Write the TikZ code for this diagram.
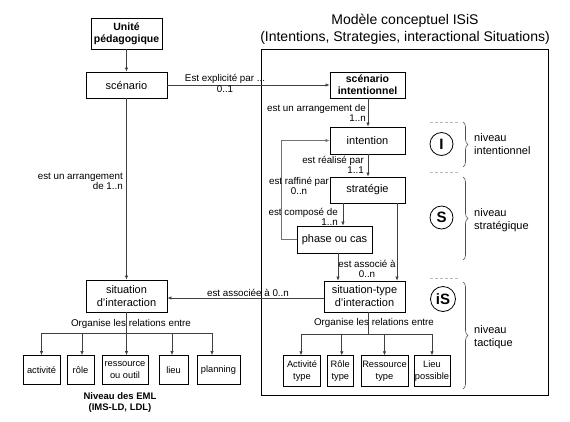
\documentclass[tikz,border=0pt]{standalone}
\usepackage{fontspec}
\setmainfont{Liberation Sans}
\usetikzlibrary{arrows.meta,decorations.pathreplacing}
\begin{document}
\begin{tikzpicture}[x=1pt,y=-1pt,
  box/.style={draw,line width=0.8pt,inner sep=0pt,align=center,font=\fontsize{11}{13}\selectfont},
  bbox/.style={box,font=\fontsize{10.5}{12}\selectfont\bfseries},
  sbox/.style={draw,line width=0.8pt,inner sep=0pt,align=center,font=\fontsize{9.3}{12}\selectfont},
  lbl/.style={inner sep=0pt,align=center,font=\fontsize{9.8}{10}\selectfont},
  lvl/.style={inner sep=0pt,align=left,anchor=west,font=\fontsize{11}{13}\selectfont},
  circ/.style={circle,draw,line width=0.8pt,inner sep=0pt,minimum size=23pt,font=\fontsize{15}{15}\selectfont\bfseries},
  arr/.style={draw=black!75,line width=0.7pt,-{Latex[length=4pt,width=3.5pt]}},
  ln/.style={draw=black!75,line width=0.7pt},
  sep/.style={draw=gray!55,line width=0.7pt,dash pattern=on 3pt off 2pt},
  brc/.style={draw=black!70,line width=0.6pt,decorate,decoration={brace,amplitude=5pt}}
]
\useasboundingbox (0,0) rectangle (570,421);

% big frame and title
\draw[line width=1pt] (261,49) rectangle (548,395);
\node[inner sep=0pt,align=center,font=\fontsize{14}{17}\selectfont] (title) at (405,29.5)
  {Modèle conceptuel ISiS\\(Intentions, Strategies, interactional Situations)};

% nodes
\node[bbox,minimum width=71pt,minimum height=31pt] (up) at (126.5,33.5) {Unité\\pédagogique};
\node[box,minimum width=81pt,minimum height=26pt] (scen) at (126.5,85) {scénario};
\node[bbox,minimum width=75pt,minimum height=26pt] (sint) at (367.5,85) {scénario\\intentionnel};
\node[box,minimum width=75pt,minimum height=27pt] (int) at (367.5,140.5) {intention};
\node[box,minimum width=75pt,minimum height=26pt] (strat) at (367.5,190) {stratégie};
\node[box,minimum width=75pt,minimum height=27pt] (phase) at (334.5,239.5) {phase ou cas};
\node[box,minimum width=81pt,minimum height=31pt] (sit) at (364.5,296.5) {situation-type\\d’interaction};
\node[box,minimum width=81pt,minimum height=32pt] (sitint) at (126.5,296) {situation\\d’interaction};

% bottom left boxes
\node[sbox,minimum width=37pt,minimum height=29pt] (act) at (41.5,370) {activité};
\node[sbox,minimum width=27pt,minimum height=29pt] (role) at (80.5,370) {rôle};
\node[sbox,minimum width=46pt,minimum height=29pt] (ress) at (125,370) {ressource\\ou outil};
\node[sbox,minimum width=29pt,minimum height=29pt] (lieu) at (173.5,370) {lieu};
\node[sbox,minimum width=43pt,minimum height=29pt] (plan) at (218.5,370) {planning};
\node[inner sep=0pt,align=center,font=\fontsize{9.5}{11}\selectfont\bfseries] (eml) at (120,402.5) {Niveau des EML\\(IMS-LD, LDL)};

% bottom right boxes
\node[sbox,minimum width=37pt,minimum height=30.5pt] (at) at (302,371) {Activité\\type};
\node[sbox,minimum width=25.5pt,minimum height=30.5pt] (rt) at (340.3,371) {Rôle\\type};
\node[sbox,minimum width=47pt,minimum height=30.5pt] (rst) at (384.5,371) {Ressource\\type};
\node[sbox,minimum width=36pt,minimum height=30.5pt] (lp) at (432,371) {Lieu\\possible};

% connectors
\draw[arr] (up) -- (scen);
\draw[arr] (scen.east) -- (sint.west);
\node[lbl] (l1a) at (225,79) {Est explicité par ...};
\node[lbl] (l1b) at (225,89.5) {0..1};

\draw[arr] (scen.south) -- (sitint.north);
\node[lbl,align=right,anchor=east] (l2) at (123,181.5) {est un arrangement\\de 1..n};

\draw[arr] ([xshift=0.5pt]sint.south) -- ([xshift=0.5pt]int.north);
\node[lbl,align=right,anchor=east] (l3) at (366,112.5) {est un arrangement de\\1..n};

\draw[arr] ([xshift=0.5pt]int.south) -- ([xshift=0.5pt]strat.north);
\node[lbl,align=right,anchor=east] (l4) at (364,165) {est réalisé par\\1..1};

\draw[arr] ([xshift=-24.5pt]strat.south) -- ([xshift=-24.5pt]strat.south |- phase.north);
\node[lbl,align=right,anchor=east] (l5) at (338,216.5) {est composé de\\1..n};

\draw[arr,draw=black!55] (phase.west) -- ++(-15,0) |- (int.west);
\node[lbl] (l6) at (299,186) {est raffiné par\\0..n};

\draw[arr] ([xshift=29.5pt]strat.south) -- ([xshift=29.5pt]strat.south |- sit.north);
\draw[arr] ([xshift=3.5pt]phase.south) -- ([xshift=3.5pt]phase.south |- sit.north);
\node[lbl] (l7) at (367,268.5) {est associé à\\0..n};

\draw[arr] (sit.west |- 0,298) -- (sitint.east |- 0,298);
\node[lbl] (l8) at (248,293) {est associée à 0..n};

% left bus
\coordinate (busL) at (126.5,333.5);
\draw[ln] (sitint.south) -- (busL);
\draw[arr] (busL) -| (act.north);
\draw[arr] (busL) -| ([xshift=1.5pt]role.north);
\draw[arr] (busL) -| ([xshift=1.5pt]ress.north);
\draw[arr] (busL) -| ([xshift=-1.5pt]lieu.north);
\draw[arr] (busL) -| ([xshift=-6.5pt]plan.north);
\node[lbl] (l9) at (131,324) {Organise les relations entre};

% right bus
\coordinate (busR) at (368,334);
\draw[ln] ([xshift=3.5pt]sit.south) -- (busR);
\draw[arr] (busR) -| ([xshift=-1pt]at.north);
\draw[arr] (busR) -| ([xshift=1.5pt]rt.north);
\draw[arr] (busR) -| (rst.north);
\draw[arr] (busR) -| (lp.north);
\node[lbl] (l10) at (374,323) {Organise les relations entre};

% levels
\draw[sep] (430,122) -- (459,122);
\draw[sep] (430,172) -- (459,172);
\draw[sep] (430,278) -- (459,278);
\node[circ] (cI) at (441.5,144) {I};
\node[circ] (cS) at (441.5,217.5) {S};
\node[circ,minimum size=25pt] (ciS) at (443,299) {iS};
\draw[brc] (463,122) -- (463,167);
\draw[brc] (463,177) -- (463,260);
\draw[brc] (463,282) -- (463,389);
\node[lvl] (n1) at (474,144) {niveau\\intentionnel};
\node[lvl] (n2) at (474,220) {niveau\\stratégique};
\node[lvl] (n3) at (474,337) {niveau\\tactique};
\end{tikzpicture}
\end{document}
